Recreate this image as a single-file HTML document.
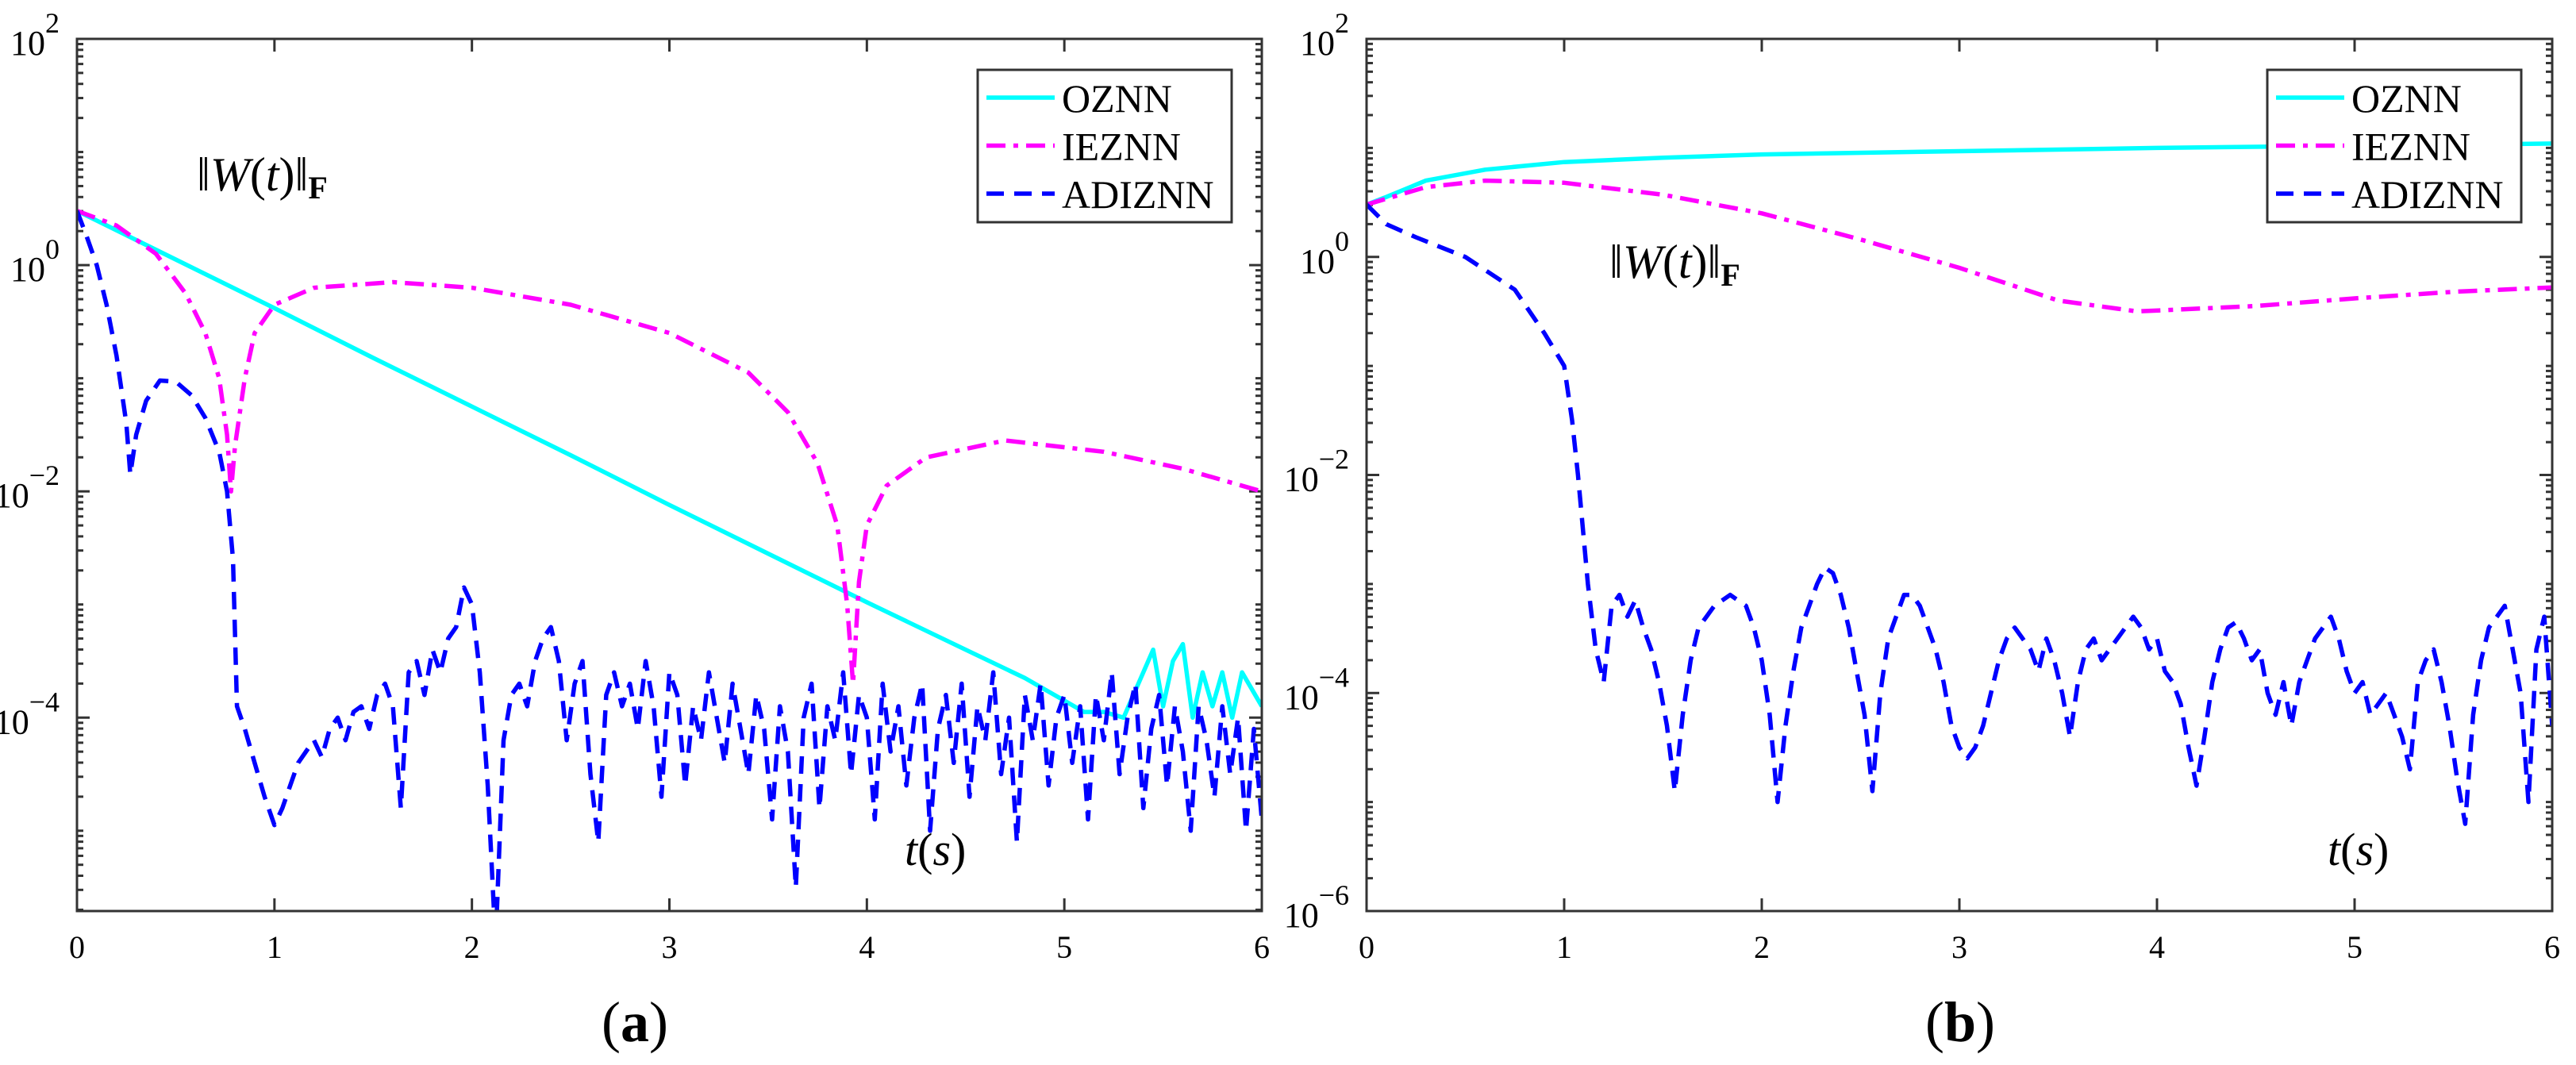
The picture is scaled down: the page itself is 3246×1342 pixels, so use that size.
<!DOCTYPE html>
<html><head><meta charset="utf-8"><style>
html,body{margin:0;padding:0;background:#fff;}
svg{display:block;font-family:"Liberation Serif",serif;}
</style></head><body>
<svg id="fig" width="3246" height="1342" viewBox="0 0 3246 1342" xmlns="http://www.w3.org/2000/svg">
<g id="pa"></g>
<g id="pb"></g>
<text x="800" y="1312" font-size="72" text-anchor="middle">(<tspan font-weight="bold">a</tspan>)</text>
<text x="2470" y="1312" font-size="72" text-anchor="middle">(<tspan font-weight="bold">b</tspan>)</text>
</svg>
<script>
// ---------- Data (log10 values) ----------
const xTicks = [0,1,2,3,4,5,6];
const aYTicks = [2,0,-2,-4];
const bYTicks = [2,0,-2,-4,-6];
// Panel (a)
const aOzT = [0,0.5,1,1.5,2,2.5,3,3.5,4,4.5,4.8,5,5.1,5.2,5.3,5.4,5.45,5.5,5.55,5.6,5.65,5.7,5.75,5.8,5.85,5.9,6];
const aOzV = [0.48,0.05,-0.38,-0.82,-1.25,-1.68,-2.12,-2.55,-2.98,-3.4,-3.65,-3.85,-3.95,-3.95,-4.0,-3.6,-3.4,-3.9,-3.5,-3.35,-4.0,-3.6,-3.9,-3.6,-4.0,-3.6,-3.9];
const aIeT = [0,0.2,0.4,0.55,0.65,0.72,0.76,0.78,0.8,0.85,0.9,1.0,1.2,1.6,2.0,2.5,3.0,3.4,3.6,3.75,3.85,3.9,3.93,3.96,4.0,4.1,4.3,4.7,5.2,5.6,6];
const aIeV = [0.48,0.35,0.1,-0.25,-0.6,-1.0,-1.5,-2.0,-1.6,-1.0,-0.6,-0.35,-0.2,-0.15,-0.2,-0.35,-0.6,-0.95,-1.3,-1.75,-2.3,-3.0,-3.7,-2.8,-2.3,-1.95,-1.7,-1.55,-1.65,-1.8,-2.0];
const aAdHeadT = [0,0.05,0.1,0.15,0.2,0.25,0.27,0.3,0.35,0.42,0.5,0.58,0.65,0.72,0.76,0.79,0.81,0.85,0.9,0.95,1.0];
const aAdHeadV = [0.48,0.25,0.0,-0.35,-0.8,-1.4,-1.85,-1.5,-1.2,-1.02,-1.03,-1.15,-1.35,-1.65,-2.0,-2.6,-3.9,-4.1,-4.4,-4.7,-4.95];
const aAdNoiseStart = 1.04, aAdNoiseStep = 0.04;
const aAdNoiseV = [-4.8,-4.6,-4.4,-4.3,-4.2,-4.35,-4.1,-4.0,-4.2,-3.95,
-3.9,-4.1,-3.8,-3.7,-3.9,-4.8,-3.6,-3.5,-3.8,-3.4,
-3.6,-3.3,-3.2,-2.85,-3.0,-3.6,-4.6,-6,-4.2,-3.8,
-3.7,-3.9,-3.5,-3.3,-3.2,-3.5,-4.2,-3.7,-3.5,-4.5,
-5.1,-3.8,-3.6,-3.9,-3.7,-4.1,-3.5,-3.9,-4.7,-3.6,
-3.8,-4.6,-3.9,-4.2,-3.6,-4.0,-4.4,-3.7,-4.1,-4.5,
-3.8,-4.1,-4.9,-3.9,-4.3,-5.5,-4.0,-3.7,-4.8,-3.9,
-4.2,-3.6,-4.5,-3.8,-4.0,-4.9,-3.7,-4.3,-3.9,-4.6,
-4.0,-3.7,-5.0,-4.1,-3.8,-4.4,-3.7,-4.7,-3.9,-4.2,
-3.6,-4.5,-4.0,-5.1,-3.8,-4.2,-3.7,-4.6,-4.0,-3.8,
-4.4,-3.9,-4.9,-3.8,-4.2,-3.6,-4.5,-4.0,-3.7,-4.8,
-4.1,-3.8,-4.6,-3.9,-4.3,-5.0,-3.9,-4.2,-4.7,-3.9,
-4.5,-4.0,-5.0,-4.1,-4.9];
// Panel (b)
const bOzT = [0,0.1,0.3,0.6,1,1.5,2,3,4,5,6];
const bOzV = [0.48,0.55,0.7,0.8,0.87,0.91,0.94,0.97,1.0,1.02,1.04];
const bIeT = [0,0.3,0.6,1,1.5,2,2.5,3,3.5,3.9,4.5,5,5.5,6];
const bIeV = [0.48,0.64,0.7,0.68,0.57,0.4,0.16,-0.1,-0.4,-0.5,-0.45,-0.38,-0.32,-0.28];
const bAdHeadT = [0,0.1,0.25,0.5,0.75,0.9,1.0,1.04,1.07,1.1,1.12];
const bAdHeadV = [0.48,0.3,0.18,0.0,-0.3,-0.7,-1.0,-1.5,-2.0,-2.6,-3.0];
const bAdNoiseStart = 1.16, bAdNoiseStep = 0.04;
const bAdNoiseV = [-3.6,-3.9,-3.2,-3.1,-3.3,-3.15,-3.4,-3.6,-3.9,-4.3,
-4.9,-4.2,-3.7,-3.4,-3.3,-3.2,-3.15,-3.1,-3.15,-3.2,
-3.4,-3.7,-4.2,-5.0,-4.3,-3.8,-3.4,-3.2,-3.0,-2.85,
-2.9,-3.1,-3.4,-3.8,-4.2,-4.9,-4.0,-3.5,-3.3,-3.1,
-3.1,-3.2,-3.4,-3.6,-3.9,-4.3,-4.5,-4.6,-4.5,-4.3,
-4.0,-3.7,-3.5,-3.4,-3.5,-3.6,-3.8,-3.5,-3.7,-4.0,
-4.4,-3.9,-3.6,-3.5,-3.7,-3.6,-3.5,-3.4,-3.3,-3.4,
-3.6,-3.5,-3.8,-3.9,-4.1,-4.5,-4.85,-4.4,-3.9,-3.6,
-3.4,-3.35,-3.5,-3.7,-3.6,-4.0,-4.2,-3.9,-4.3,-3.9,
-3.7,-3.5,-3.4,-3.3,-3.5,-3.8,-4.0,-3.9,-4.2,-4.1,
-4.0,-4.2,-4.4,-4.7,-3.9,-3.7,-3.6,-3.9,-4.3,-4.8,
-5.2,-4.2,-3.7,-3.4,-3.3,-3.2,-3.6,-4.0,-5.0,-3.6,
-3.3,-4.3];
const legendNames = ["OZNN","IEZNN","ADIZNN"];

const NS = "http://www.w3.org/2000/svg";
function mk(parent, tag, attrs){const e=document.createElementNS(NS,tag);for(const k in attrs)e.setAttribute(k,attrs[k]);parent.appendChild(e);return e;}

function drawPanel(g, cfg){
  const L=cfg.L,R=cfg.R,T=49,B=1148;
  const sx=t=>L+(t/6)*(R-L);
  const sy=v=>T+(cfg.ymax-v)/(cfg.ymax-cfg.ymin)*(B-T);
  const clip = mk(g,'clipPath',{id:cfg.id+'clip'});
  mk(clip,'rect',{x:L,y:T,width:R-L,height:B-T});
  const stroke='#333';
  // axes ticks
  const ticks = mk(g,'g',{});
  
  
  xTicks.forEach(t=>{
    const x=sx(t);
    mk(ticks,'line',{x1:x,y1:B,x2:x,y2:B-16,stroke:stroke,'stroke-width':3});
    mk(ticks,'line',{x1:x,y1:T,x2:x,y2:T+16,stroke:stroke,'stroke-width':3});
    const lab=mk(ticks,'text',{x:x,y:1207,'font-size':40,'text-anchor':'middle'});
    lab.textContent=t;
    
    
  });
  for(let d=Math.floor(cfg.ymin); d<cfg.ymax; d++){
    for(let m=1;m<10;m++){
      const v=d+Math.log10(m);
      if(v<cfg.ymin-1e-9||v>cfg.ymax+1e-9)continue;
      const y=sy(v);
      const len = (m===1 && cfg.yTicks.includes(d))?16:8;
      mk(ticks,'line',{x1:L,y1:y,x2:L+len,y2:y,stroke:stroke,'stroke-width':3});
      mk(ticks,'line',{x1:R,y1:y,x2:R-len,y2:y,stroke:stroke,'stroke-width':3});
    }
  }
  cfg.yTicks.forEach(d=>{
    const y=sy(d);
    const lab=mk(ticks,'text',{x:L-22,y:y+20,'font-size':44,'text-anchor':'end'});
    
    
    const a=mk(lab,'tspan',{});a.textContent='10';
    const b=mk(lab,'tspan',{dy:-28,'font-size':36});b.textContent=(d<0?'\u2212':'')+Math.abs(d);
  });
  // series
  const series = mk(g,'g',{'clip-path':'url(#'+cfg.id+'clip)'});
  function path(ts,vs,color,dash,name){
    let d='';ts.forEach((t,i)=>{d+=(i?'L':'M')+sx(t).toFixed(1)+','+sy(vs[i]).toFixed(1);});
    const p=mk(series,'path',{d:d,fill:'none',stroke:color,'stroke-width':5.5,'stroke-linejoin':'round'});
    if(dash)p.setAttribute('stroke-dasharray',dash);
    
    
  }
  const adT=cfg.adHeadT.slice(), adV=cfg.adHeadV.slice();
  cfg.adNoise.forEach((v,i)=>{adT.push(cfg.adStart+i*cfg.adStep);adV.push(v);});
  path(cfg.ozT,cfg.ozV,'#00ffff',null,'oznn-line');
  path(cfg.ieT,cfg.ieV,'#ff00ff','24 10 6 10','iezNN-line'.toLowerCase());
  path(adT,adV,'#0000ff','22 13','adiznn-line');
  // frame
  const fr=mk(g,'rect',{x:L,y:T,width:R-L,height:B-T,fill:'none',stroke:stroke,'stroke-width':3});
  
  
  // legend
  const lg=mk(g,'g',{});
  
  
  const lx=cfg.legX;
  mk(lg,'rect',{x:lx,y:88,width:320,height:192,fill:'#fff',stroke:stroke,'stroke-width':3});
  const cols=['#00ffff','#ff00ff','#0000ff'], dashes=[null,'24 10 6 10','22 13'];
  legendNames.forEach((n,i)=>{
    const y=123+i*60.5;
    const ln=mk(lg,'line',{x1:lx+11,y1:y,x2:lx+97,y2:y,stroke:cols[i],'stroke-width':5.5});
    if(dashes[i])ln.setAttribute('stroke-dasharray',dashes[i]);
    const tx=mk(lg,'text',{x:lx+106,y:y+18,'font-size':50});
    tx.textContent=n;
    
    
  });
  // annotations
  const wl=mk(g,'text',{x:cfg.wX,y:cfg.wY,'font-size':60});
  
  
  wl.innerHTML='‖<tspan font-style="italic">W</tspan>(<tspan font-style="italic">t</tspan>)‖<tspan font-size="40" dy="10" font-weight="bold">F</tspan>';
  const tl=mk(g,'text',{x:cfg.tX,y:1090,'font-size':58});
  
  
  tl.innerHTML='<tspan font-style="italic">t</tspan>(<tspan font-style="italic">s</tspan>)';
}

drawPanel(document.getElementById('pa'),{id:'a',L:97,R:1590,ymax:2,ymin:-5.71,yTicks:aYTicks,
  ozT:aOzT,ozV:aOzV,ieT:aIeT,ieV:aIeV,adHeadT:aAdHeadT,adHeadV:aAdHeadV,adNoise:aAdNoiseV,adStart:aAdNoiseStart,adStep:aAdNoiseStep,
  legX:1232,wX:248,wY:240,tX:1140});
drawPanel(document.getElementById('pb'),{id:'b',L:1722,R:3216,ymax:2,ymin:-6,yTicks:bYTicks,
  ozT:bOzT,ozV:bOzV,ieT:bIeT,ieV:bIeV,adHeadT:bAdHeadT,adHeadV:bAdHeadV,adNoise:bAdNoiseV,adStart:bAdNoiseStart,adStep:bAdNoiseStep,
  legX:2857,wX:2028,wY:350,tX:2933});
</script>
</body></html>
